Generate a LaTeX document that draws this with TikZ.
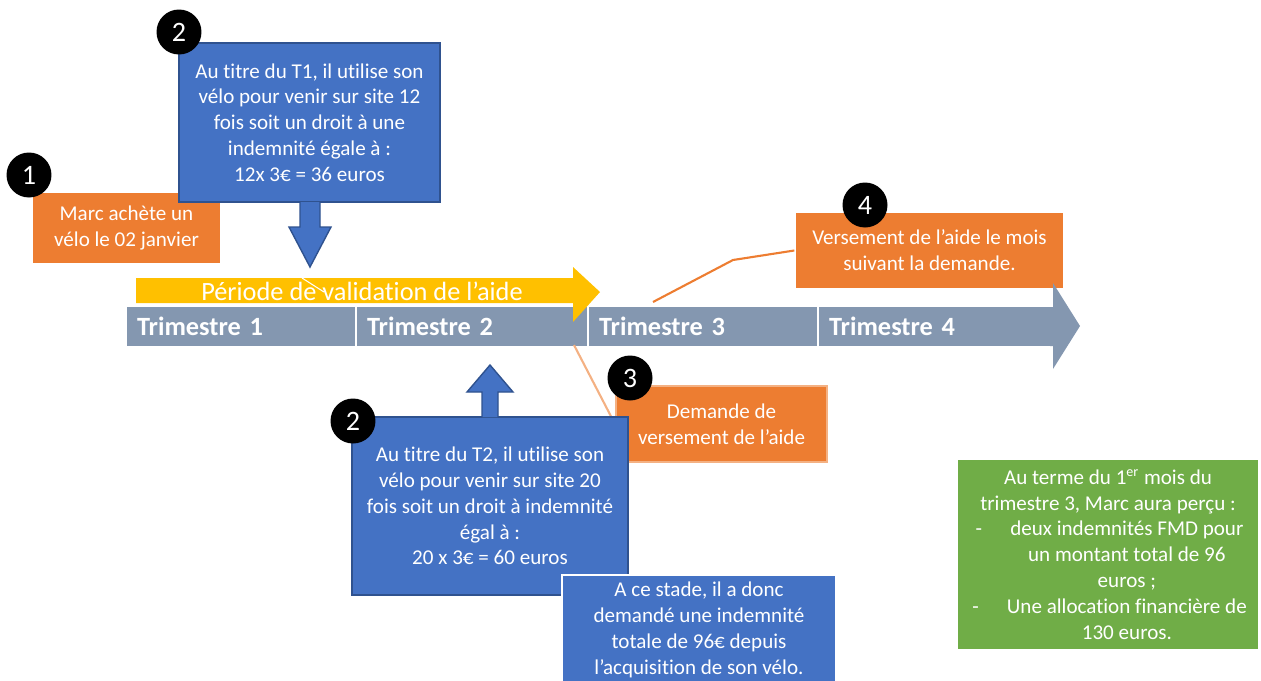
\documentclass[tikz,border=0pt]{standalone}
\usepackage{fontspec}
\setmainfont{Carlito}[Ligatures=NoCommon]
\definecolor{ablue}{HTML}{4472C4}
\definecolor{ablueline}{HTML}{2F528F}
\definecolor{aorange}{HTML}{ED7D31}
\definecolor{alightorange}{HTML}{F4B183}
\definecolor{agrey}{HTML}{8497B0}
\definecolor{ayellow}{HTML}{FFC000}
\definecolor{agreen}{HTML}{70AD47}

\begin{document}
\begin{tikzpicture}[
  x=0.02cm, y=-0.02cm,
  box/.style={align=center, text=white, inner sep=0pt, font=\fontsize{12}{14.7}\selectfont},
  bluebox/.style={box, fill=ablue, draw=ablueline, line width=0.8pt},
  orangebox/.style={box, fill=aorange, draw=white, line width=0.8pt},
  badge/.style={circle, fill=black, text=white, minimum size=0.9cm, inner sep=0pt, font=\fontsize{16}{16}\selectfont},
  quarter/.style={fill=agrey, draw=white, line width=0.8pt, minimum height=0.82cm, inner xsep=0.22cm, align=left, text=white, font=\fontsize{15}{15}\selectfont\bfseries},
  leader/.style={draw=aorange, line width=1.2pt}
]
\useasboundingbox (0,0) rectangle (1261,680);

% Step 1
\node[orangebox, minimum width=3.78cm, minimum height=1.44cm] (buy) at (126.5,228) {Marc achète un\\vélo le 02 janvier};
\node[badge] (b1) at (29,175) {1};

% Step 2, first quarter
\node[bluebox, minimum width=5.22cm, minimum height=3.18cm] (tone) at (309.5,122.5) {Au titre du T1, il utilise son\\vélo pour venir sur site 12\\fois soit un droit à une\\indemnité égale à :\\12x 3€ = 36 euros};
\filldraw[fill=ablue, draw=ablueline, line width=0.8pt] (300,202) -- (300,227) -- (289,227) -- (310,267) -- (331,227) -- (320,227) -- (320,202);
\node[badge] (b2) at (179,32) {2};

% Step 4
\node[orangebox, minimum width=5.38cm, minimum height=1.54cm] (pay) at (929.5,250.5) {Versement de l’aide le mois\\suivant la demande.};
\node[badge] (b4) at (865,205) {4};

% Timeline
\node[quarter, text width=4.16cm] (q1) at (241,326.5) {Trimestre 1};
\node[quarter, text width=4.2cm] (q2) at (472,326.5) {Trimestre 2};
\node[quarter, text width=4.16cm] (q3) at (703,326.5) {Trimestre 3};
\node[quarter, text width=4.26cm] (q4) at (935.5,326.5) {Trimestre 4};
\fill[agrey] (1050,307) -- (1053,307) -- (1053,283) -- (1080,326) -- (1053,369) -- (1053,346) -- (1050,346) -- cycle;

% Validation period
\fill[ayellow] (136,278) -- (573,278) -- (573,267) -- (600,292) -- (573,322) -- (573,303) -- (136,303) -- cycle;
\node[text=white, font=\fontsize{15}{15}\selectfont] (valid) at (362,291) {Période de validation de l’aide};
\draw[white, line width=0.6pt] (302,278) -- (324,292);

% Leaders
\coordinate (bend) at (733,260);
\coordinate (onq3) at (653,302);
\coordinate (onq2) at (574,345);
\draw[leader] (pay.west) -- (bend) -- (onq3);

% Step 3
\node[box, fill=aorange, draw=alightorange, line width=1.2pt, minimum width=4.22cm, minimum height=1.52cm] (ask) at (721.5,424) {Demande de\\versement de l’aide};
\draw[draw=alightorange, line width=1.2pt] (onq2) -- (ask.west);
\node[badge] (b3) at (630,378) {3};

% Step 2, second quarter
\node[bluebox, minimum width=5.52cm, minimum height=3.56cm] (ttwo) at (490,506) {Au titre du T2, il utilise son\\vélo pour venir sur site 20\\fois soit un droit à indemnité\\égal à :\\20 x 3€ = 60 euros};
\filldraw[fill=ablue, draw=ablueline, line width=0.8pt] (482,417) -- (482,392) -- (467,392) -- (490,365) -- (513,392) -- (498,392) -- (498,417);
\node[badge] (b2b) at (353,421) {2};

% Total so far
\node[box, fill=ablue, draw=white, line width=0.8pt, minimum width=5.48cm, minimum height=2.2cm] (total) at (699,630) {A ce stade, il a donc\\demandé une indemnité\\totale de 96€ depuis\\l’acquisition de son vélo.};

% Summary
\node[box, fill=agreen, draw=white, line width=0.8pt, minimum width=6.04cm, minimum height=3.82cm] (sum) at (1108,554.5) {Au terme du 1\textsuperscript{er} mois du\\trimestre 3, Marc aura perçu :\\\hspace*{21.5pt}\llap{-\hspace{16pt}}deux indemnités FMD pour\\\hspace*{21.5pt}un montant total de 96\\\hspace*{21.5pt}euros ;\\\hspace*{21.5pt}\llap{-\hspace{16pt}}Une allocation financière de\\\hspace*{21.5pt}130 euros.};

\end{tikzpicture}
\end{document}
